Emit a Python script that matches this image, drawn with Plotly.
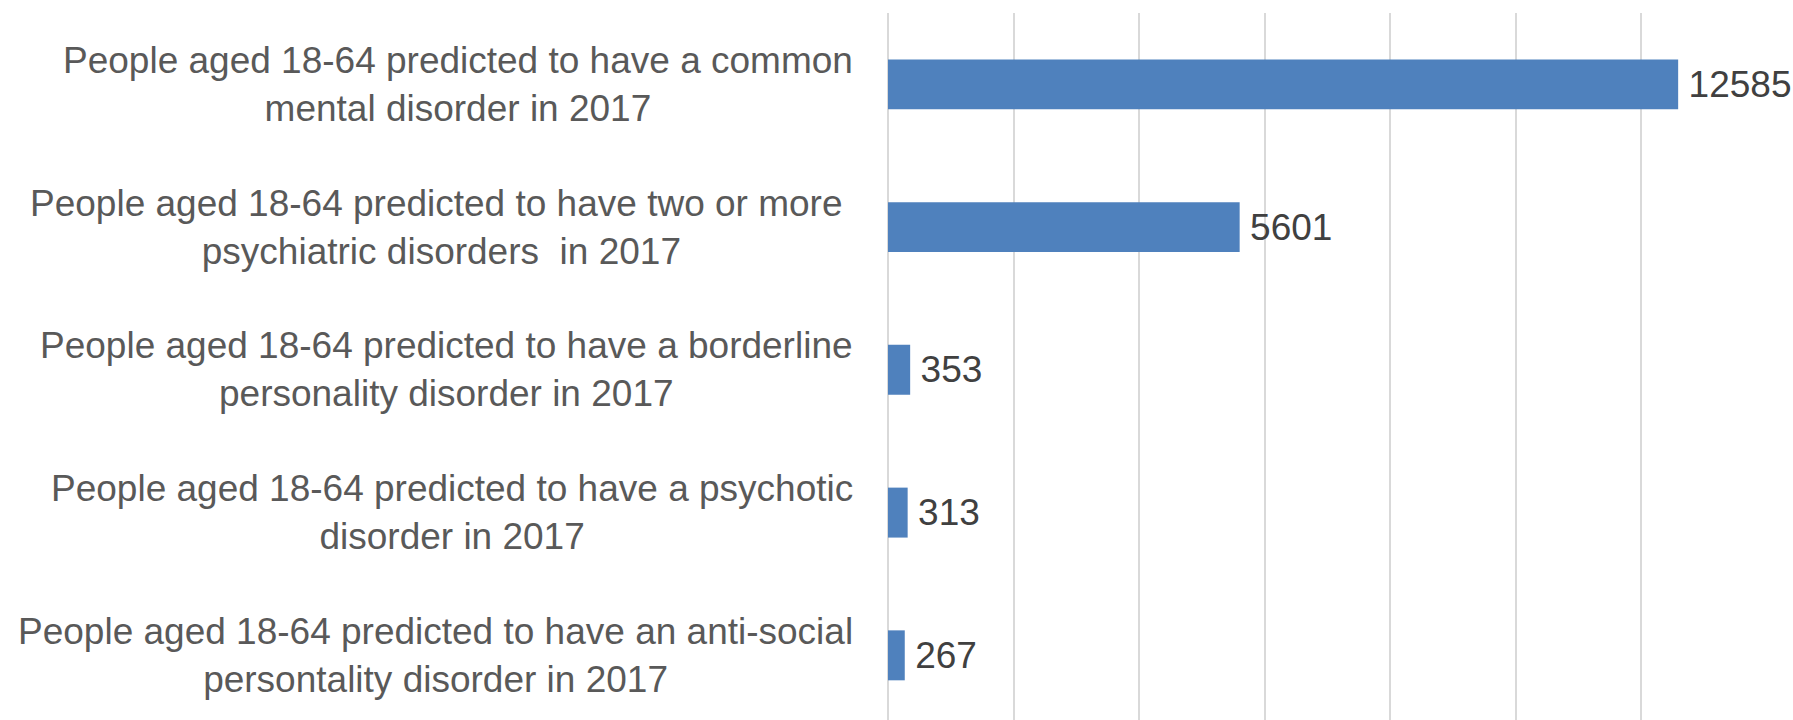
import plotly.graph_objects as go

categories = [
    "People aged 18-64 predicted to have a common<br>mental disorder in 2017",
    "People aged 18-64 predicted to have two or more\u00a0<br>psychiatric disorders\u00a0 in 2017",
    "People aged 18-64 predicted to have a borderline<br>personality disorder in 2017",
    "People aged 18-64 predicted to have a psychotic<br>disorder in 2017",
    "People aged 18-64 predicted to have an anti-social<br>persontality disorder in 2017",
]
values = [12585, 5601, 353, 313, 267]
x_ticks = [0, 2000, 4000, 6000, 8000, 10000, 12000, 14000]

FONT = "Liberation Sans, Arial, sans-serif"

fig = go.Figure()
fig.add_trace(go.Bar(
    y=categories,
    x=values,
    orientation="h",
    width=0.35,
    marker=dict(color="#4f81bd", line=dict(width=0)),
    texttemplate="\u2009%{x:d}",
    textposition="outside",
    textfont=dict(family=FONT, size=37, color="#404040"),
    cliponaxis=False,
    constraintext="none",
    hoverinfo="skip",
))

for cat in categories:
    fig.add_annotation(
        x=0, xref="paper", y=cat, yref="y",
        text=cat, showarrow=False,
        xanchor="right", yanchor="middle", align="center",
        xshift=-33,
        font=dict(family=FONT, size=37, color="#595959"),
    )

fig.update_layout(
    width=1793, height=720,
    margin=dict(l=888, r=26, t=13, b=0, pad=0),
    paper_bgcolor="white", plot_bgcolor="white",
    showlegend=False,
    xaxis=dict(
        range=[x_ticks[0], x_ticks[-1]],
        tickvals=x_ticks,
        showticklabels=False,
        showgrid=True, gridcolor="#d9d9d9", gridwidth=1.5,
        zeroline=True, zerolinecolor="#d9d9d9", zerolinewidth=1.5,
        showline=False, ticks="",
    ),
    yaxis=dict(
        type="category",
        categoryorder="array", categoryarray=categories,
        range=[4.453, -0.5],
        showticklabels=False, showgrid=False, zeroline=False,
        showline=False, ticks="",
    ),
)

fig.write_html("out.html")
